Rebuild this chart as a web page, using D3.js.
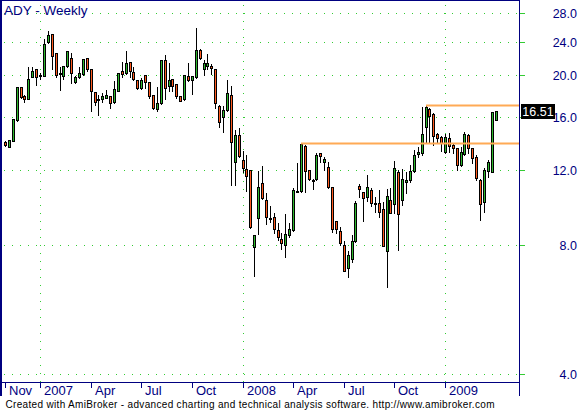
<!DOCTYPE html>
<html><head><meta charset="utf-8">
<script src="https://cdn.jsdelivr.net/npm/d3@7"></script>
<style>html,body{margin:0;padding:0;background:#fff;}svg{display:block;}</style>
</head><body><div id="chart"></div>
<script>
const title = "ADY - Weekly";
const footer = "Created with AmiBroker - advanced charting and technical analysis software. http://www.amibroker.com";
const firstWeek = [2006, 10, 3]; // Friday 3 Nov 2006
const opens = [13.97,13.62,14.07,15.73,18.76,17.87,17.63,19.86,20.67,19.94,19.97,23.95,24.96,22.53,20.21,19.97,21.01,21.93,19.30,19.80,20.12,21.93,20.67,18.26,17.61,17.61,17.74,17.87,17.30,18.42,20.48,20.23,21.46,20.34,19.48,18.65,20.01,19.27,17.97,16.72,17.21,21.70,18.92,19.58,19.06,17.87,17.58,19.90,19.48,19.80,22.94,20.67,21.01,21.01,20.67,16.96,16.01,16.60,17.97,12.52,14.48,12.66,12.08,11.99,7.92,9.26,11.18,10.20,9.28,9.31,8.68,8.27,8.00,8.44,8.68,10.71,10.71,13.69,11.99,11.41,11.42,13.14,12.56,12.19,10.94,9.11,8.63,8.00,7.10,7.45,8.18,11.02,10.65,10.37,10.77,10.04,10.04,9.73,7.77,10.20,10.00,11.88,10.22,11.26,11.38,11.97,13.09,13.14,15.12,16.69,16.22,14.56,14.37,13.21,14.30,13.74,13.50,12.34,13.07,14.50,13.50,12.90,11.38,10.09,11.97,11.90,15.73];
const highs = [14.04,14.12,15.81,18.79,18.79,17.95,20.89,20.89,20.70,20.23,24.30,25.41,25.00,22.57,20.89,21.04,22.81,22.57,19.94,20.93,21.85,21.97,20.70,18.29,17.97,18.16,18.49,17.90,19.41,20.26,21.50,22.81,21.50,20.89,19.51,19.72,20.04,19.30,17.99,18.79,21.73,22.33,21.38,19.62,19.09,17.90,20.04,21.38,19.94,25.82,23.06,21.73,22.48,21.23,20.70,17.05,16.99,19.51,18.89,14.88,15.04,13.28,13.00,12.01,8.46,11.93,12.27,10.59,9.89,9.53,9.01,8.54,9.46,9.01,10.88,12.45,13.85,13.72,12.01,11.44,13.16,13.16,12.90,12.57,10.96,9.12,8.85,8.19,7.77,8.45,10.16,11.14,10.67,11.67,10.90,10.40,10.78,10.12,10.86,10.88,12.63,12.01,12.08,11.88,12.34,13.38,13.60,16.84,17.00,16.78,16.33,14.66,14.43,14.58,14.66,13.89,13.52,13.60,14.72,14.58,13.52,13.02,11.44,12.14,12.68,16.42,16.55];
const lows = [13.67,13.60,14.04,15.64,17.71,17.36,17.61,19.83,18.99,19.58,19.94,23.82,20.70,19.80,18.49,19.65,20.93,19.17,19.23,19.72,20.04,20.51,16.54,17.05,16.18,17.36,17.71,16.81,17.24,18.39,19.80,20.15,19.86,19.51,18.56,18.59,18.65,17.74,16.66,16.54,17.14,17.61,18.39,18.42,17.74,17.42,17.52,19.41,18.12,19.72,21.81,20.08,20.67,20.12,16.81,15.12,14.77,16.51,11.10,11.10,12.88,11.86,10.74,8.80,6.79,8.49,10.27,8.98,9.09,8.57,8.24,7.83,7.53,8.37,8.65,10.68,10.67,10.64,11.38,10.87,11.38,12.54,12.01,10.90,8.60,8.55,8.00,6.97,6.76,7.31,8.15,10.40,9.14,10.16,9.91,9.59,9.32,7.97,6.40,9.53,9.54,7.80,9.95,10.61,11.26,11.88,12.88,13.02,13.87,13.87,13.74,13.87,13.33,13.16,13.23,13.16,12.01,12.27,13.02,13.14,12.45,11.38,9.15,9.58,11.58,11.86,15.69];
const closes = [13.72,14.10,15.79,18.76,17.83,17.58,19.58,20.48,19.80,20.08,23.65,24.87,22.24,20.04,20.10,21.01,22.78,20.23,19.86,20.23,21.81,20.74,18.36,17.30,17.55,17.87,17.97,17.21,18.56,20.23,20.12,21.35,20.48,19.58,18.65,19.48,19.27,17.93,16.76,17.21,21.70,18.65,19.48,18.92,17.87,17.45,20.01,19.48,19.90,22.94,21.93,21.38,21.38,20.78,17.21,15.58,16.60,18.16,13.94,14.48,12.93,12.12,11.61,8.85,8.45,10.94,10.31,9.34,9.23,8.72,8.36,8.12,8.49,8.72,10.77,10.71,13.80,11.97,11.42,11.38,13.00,12.92,12.72,10.93,8.75,8.72,8.12,6.98,7.58,8.18,10.04,10.82,10.31,10.94,10.04,10.01,9.56,7.99,10.42,9.54,12.15,9.46,11.42,11.41,11.95,13.00,13.23,14.56,16.84,16.10,14.45,14.30,13.87,14.37,13.67,13.50,12.34,13.21,14.58,13.50,12.79,11.48,9.98,12.01,12.56,16.39,16.51];
const yTicks = [4, 8, 12, 16, 20, 24, 28];
const monthNames = ["Jan","Feb","Mar","Apr","May","Jun","Jul","Aug","Sep","Oct","Nov","Dec"];
const levelStarts = [76, 108]; // horizontal lines drawn from these bars' highs

const W = 580, H = 412;
const n = opens.length;
const t0 = new Date(Date.UTC(firstWeek[0], firstWeek[1], firstWeek[2]));
const dates = d3.range(n).map(i => d3.utcDay.offset(t0, 7 * i));
const data = dates.map((d, i) => ({d, i, o: opens[i], h: highs[i], l: lows[i], c: closes[i]}));

const x = d3.scaleUtc().domain([dates[0], dates[n - 1]]).range([5.5, 496.1]);
const y = d3.scaleLog().domain([3.83, 30.03]).range([382, 0]);

const svg = d3.select("#chart").append("svg").attr("width", W).attr("height", H)
  .style("font-family", "'Liberation Sans', Arial, sans-serif");
svg.append("rect").attr("width", W).attr("height", H).attr("fill", "#fff");

const navy = "#000080", grid = "#33cc33";
const col = v => Math.floor(x(v));

// x ticks: first bar of each quarter (and first bar), only where the label fits inside the frame
const fmtTick = p => p.d.getUTCMonth() === 0 ? String(p.d.getUTCFullYear()) : monthNames[p.d.getUTCMonth()];
const xt = data.filter((p, k) => k === 0 || (p.d.getUTCMonth() !== data[k - 1].d.getUTCMonth() && p.d.getUTCMonth() % 3 === 0))
  .filter(p => col(p.d) + 4 + fmtTick(p).length * 7 < 519);

// horizontal grid
const g = svg.append("g");
g.selectAll("line.hg").data(yTicks).join("line")
  .attr("x1", 4).attr("x2", 519)
  .attr("y1", t => Math.round(y(t)) + 0.5).attr("y2", t => Math.round(y(t)) + 0.5)
  .attr("stroke", grid).attr("stroke-dasharray", "1,7");
// vertical grid at year starts
g.selectAll("line.vg").data(xt.filter(p => p.i > 0 && p.d.getUTCMonth() === 0)).join("line")
  .attr("x1", p => col(p.d) + 0.5).attr("x2", p => col(p.d) + 0.5)
  .attr("y1", 5).attr("y2", 382)
  .attr("stroke", grid).attr("stroke-dasharray", "1,7");
// right tick marks
g.selectAll("line.rt").data(yTicks).join("line")
  .attr("x1", 519).attr("x2", 525)
  .attr("y1", t => Math.round(y(t)) + 0.5).attr("y2", t => Math.round(y(t)) + 0.5)
  .attr("stroke", grid);

// candles
const up = "#2eb82e", down = "#ff5a1e";
const cg = svg.append("g");
cg.selectAll("line.wick").data(data).join("line")
  .attr("x1", p => col(p.d) + 0.5).attr("x2", p => col(p.d) + 0.5)
  .attr("y1", p => Math.round(y(p.h))).attr("y2", p => Math.round(y(p.l)) + 1)
  .attr("stroke", "#000").attr("stroke-width", 1);
cg.selectAll("rect.body").data(data).join("rect")
  .attr("x", p => col(p.d) - 0.5)
  .attr("width", 2)
  .attr("y", p => Math.round(y(Math.max(p.o, p.c))) + 0.5)
  .attr("height", p => Math.max(1, Math.round(y(Math.min(p.o, p.c))) - Math.round(y(Math.max(p.o, p.c)))))
  .attr("fill", p => p.c >= p.o ? up : down)
  .attr("stroke", "#000").attr("stroke-width", 1);

// level lines
svg.selectAll("line.lvl").data(levelStarts).join("line")
  .attr("x1", k => col(dates[k])).attr("x2", 519)
  .attr("y1", k => y(highs[k])).attr("y2", k => y(highs[k]))
  .attr("stroke", "#ffaa55").attr("stroke-width", 2);

// frame
const fr = svg.append("g").attr("stroke", navy).attr("fill", "none");
fr.append("line").attr("x1", 1).attr("x2", 1).attr("y1", 0).attr("y2", 396).attr("stroke-width", 2);
fr.append("line").attr("x1", 0).attr("x2", 520).attr("y1", 0.5).attr("y2", 0.5);
fr.append("line").attr("x1", 519.5).attr("x2", 519.5).attr("y1", 0).attr("y2", 396);
fr.append("line").attr("x1", 0).attr("x2", 520).attr("y1", 382.5).attr("y2", 382.5);

// x axis ticks + labels
const xa = svg.append("g");
xa.selectAll("line").data(xt).join("line")
  .attr("x1", p => col(p.d) + 0.5).attr("x2", p => col(p.d) + 0.5)
  .attr("y1", 383).attr("y2", 388).attr("stroke", navy);
xa.selectAll("text").data(xt).join("text")
  .attr("x", p => col(p.d) + 4).attr("y", 395)
  .attr("font-size", 13).attr("fill", navy).text(fmtTick);

// y labels
svg.selectAll("text.yl").data(yTicks).join("text")
  .attr("x", 577).attr("y", t => Math.round(y(t)) + 5)
  .attr("text-anchor", "end").attr("font-size", 12.5).attr("fill", navy)
  .text(t => t.toFixed(1));

// last value label
const last = closes[n - 1], ly = Math.round(y(last));
svg.append("rect").attr("x", 521).attr("y", ly - 7).attr("width", 34).attr("height", 15).attr("fill", "#000");
svg.append("text").attr("x", 538).attr("y", ly + 5).attr("text-anchor", "middle")
  .attr("font-size", 12.5).attr("fill", "#fff").text(last.toFixed(2));

// title and footer
svg.append("text").attr("x", 4).attr("y", 14.5).attr("font-size", 13.5).attr("fill", navy).text(title);
svg.append("text").attr("x", 5.5).attr("y", 408).attr("font-size", 10).attr("fill", "#000")
  .attr("textLength", 489).attr("lengthAdjust", "spacing").text(footer);
</script></body></html>
